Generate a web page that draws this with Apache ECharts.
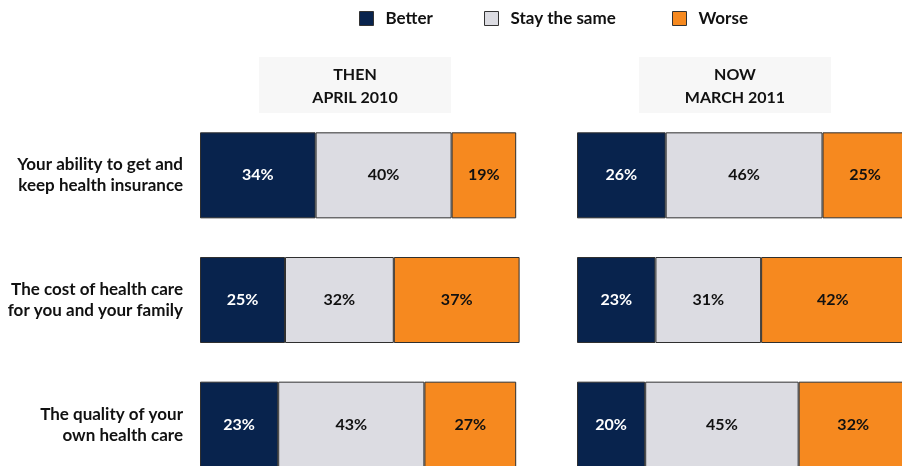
<!DOCTYPE html>
<html>
<head>
<meta charset="utf-8">
<script src="https://cdn.jsdelivr.net/npm/echarts@6/dist/echarts.min.js"></script>
<style>
    html, body { margin: 0; padding: 0; background: #fff; overflow: hidden; }
    /* the bottom row and right panel run off the edge in the original, so the canvas is a bit bigger than the window */
    #chart { width: 930px; height: 500px; }
</style>
</head>
<body>
<div id="chart"></div>
<script>
// survey items, top to bottom
const categories = [
    'Your ability to get and\nkeep health insurance',
    'The cost of health care\nfor you and your family',
    'The quality of your\nown health care'
];
const seriesNames = ['Better', 'Stay the same', 'Worse'];
const colors = ['#08234d', '#dcdce2', '#f6891f'];

// THEN - April 2010
const thenBetter = [34, 25, 23];
const thenSame = [40, 32, 43];
const thenWorse = [19, 37, 27];

// NOW - March 2011
const nowBetter = [26, 23, 20];
const nowSame = [46, 31, 45];
const nowWorse = [25, 42, 32];

const panelTitles = ['THEN\nAPRIL 2010', 'NOW\nMARCH 2011'];

const font = 'Lato, "Open Sans", sans-serif';

function makeSeries(values, idx, axisIdx, stack) {
    return {
        name: seriesNames[idx],
        type: 'bar',
        stack: stack,
        xAxisIndex: axisIdx,
        yAxisIndex: axisIdx,
        barWidth: 86,
        data: values,
        itemStyle: {
            color: colors[idx],
            borderColor: '#2f2f2f',
            borderWidth: 1
        },
        label: {
            show: true,
            position: 'inside',
            formatter: '{c}%',
            color: idx === 0 ? '#ffffff' : '#111111',
            fontFamily: font,
            fontWeight: 'bold',
            fontSize: 16
        },
        emphasis: { disabled: true },
        animation: false
    };
}

function legendAt(left, idx) {
    return {
        data: [seriesNames[idx]],
        left: left,
        top: 10,
        padding: 0,
        icon: 'rect',
        itemWidth: 14,
        itemHeight: 14,
        itemGap: 0,
        itemStyle: { borderColor: '#333', borderWidth: 1 },
        textStyle: {
            fontFamily: font,
            fontWeight: 'bold',
            fontSize: 17,
            color: '#111',
            padding: [0, 0, 0, 7]
        },
        selectedMode: false
    };
}

function headerBox(x, text) {
    return [{
        type: 'rect',
        shape: { x: x, y: 57, width: 192, height: 56 },
        style: { fill: '#f7f7f7' },
        silent: true
    }, {
        type: 'text',
        x: x + 96,
        y: 86,
        style: {
            text: text,
            fill: '#111',
            font: 'bold 16px ' + font,
            align: 'center',
            verticalAlign: 'middle',
            lineHeight: 23
        },
        silent: true
    }];
}

const chart = echarts.init(document.getElementById('chart'));

const option = {
    animation: false,
    legend: [legendAt(359, 0), legendAt(484, 1), legendAt(672, 2)],
    graphic: headerBox(259, panelTitles[0]).concat(headerBox(639, panelTitles[1])),
    grid: [
        { left: 200, top: 113, width: 340, height: 374 },
        { left: 577, top: 113, width: 341, height: 374 }
    ],
    xAxis: [
        { gridIndex: 0, type: 'value', min: 0, max: 100, show: false },
        { gridIndex: 1, type: 'value', min: 0, max: 100, show: false }
    ],
    yAxis: [
        {
            gridIndex: 0,
            type: 'category',
            inverse: true,
            data: categories,
            axisLine: { show: false },
            axisTick: { show: false },
            axisLabel: {
                margin: 17,
                align: 'right',
                fontFamily: font,
                fontWeight: 'bold',
                fontSize: 17,
                lineHeight: 21,
                color: '#111'
            }
        },
        {
            gridIndex: 1,
            type: 'category',
            inverse: true,
            data: categories,
            show: false
        }
    ],
    series: [
        makeSeries(thenBetter, 0, 0, 'then'),
        makeSeries(thenSame, 1, 0, 'then'),
        makeSeries(thenWorse, 2, 0, 'then'),
        makeSeries(nowBetter, 0, 1, 'now'),
        makeSeries(nowSame, 1, 1, 'now'),
        makeSeries(nowWorse, 2, 1, 'now')
    ]
};

chart.setOption(option);
</script>
</body>
</html>
